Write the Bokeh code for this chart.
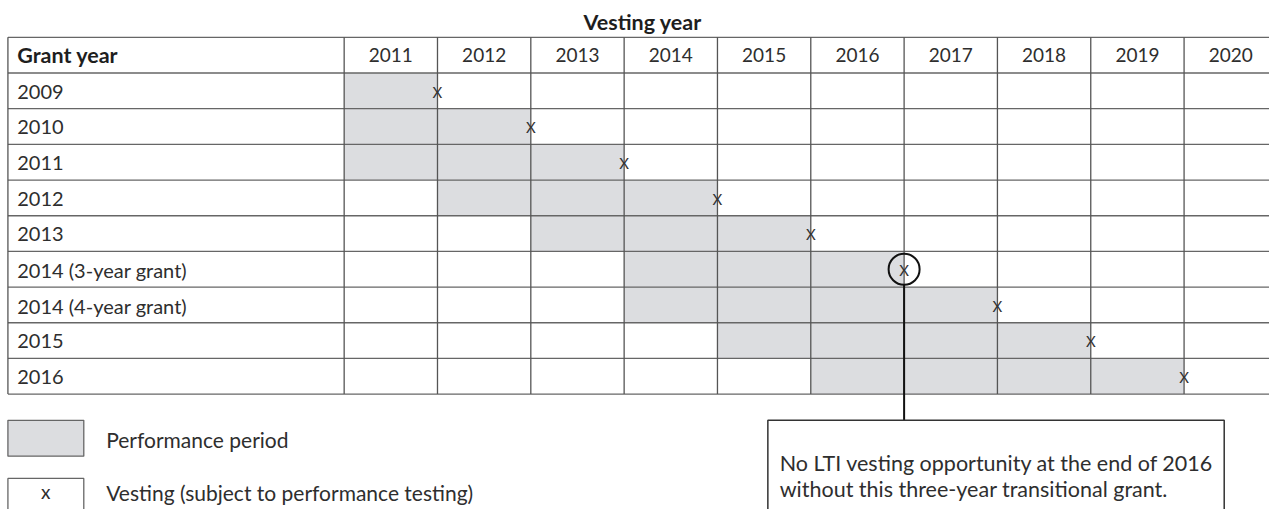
from bokeh.plotting import figure
from bokeh.models import Range1d, ColumnDataSource
from bokeh.core.properties import value
from bokeh.embed import file_html
from bokeh.resources import INLINE

# ---- data ----
vesting_years = [2011, 2012, 2013, 2014, 2015, 2016, 2017, 2018, 2019, 2020]
grant_labels = ["2009", "2010", "2011", "2012", "2013",
                "2014 (3-year grant)", "2014 (4-year grant)", "2015", "2016"]
perf_start = [2009, 2010, 2011, 2012, 2013, 2014, 2014, 2015, 2016]
perf_end = [2011, 2012, 2013, 2014, 2015, 2016, 2017, 2018, 2019]
highlight_row = "2014 (3-year grant)"
note_lines = ["No LTI vesting opportunity at the end of 2016",
              "without this three-year transitional grant."]
legend_labels = ["Performance period", "Vesting (subject to performance testing)"]

FONT = value("Lato")
GREY = "#dcdde0"
LINE = "#666666"
TXT = "#2e2e2e"

first = vesting_years[0]
ncols = len(vesting_years)
nrows = len(grant_labels) + 1      # header + grant rows
label_w = 3.603                     # width of label column (in year-columns)

p = figure(width=1269, height=509, output_backend="svg", toolbar_location=None,
           x_range=Range1d(-3.6825, 9.9153), y_range=Range1d(13.234, -1.0326),
           x_axis_type=None, y_axis_type=None, min_border=0,
           background_fill_color="white", border_fill_color="white")
p.outline_line_color = None
p.xgrid.visible = False
p.ygrid.visible = False

# shaded performance periods
rows = list(range(1, nrows))
left = [max(s, first) - first for s in perf_start]
right = [e - first + 1 for e in perf_end]
src = ColumnDataSource(dict(left=left, right=right,
                            top=rows, bottom=[r + 1 for r in rows]))
p.quad(left="left", right="right", top="top", bottom="bottom", source=src,
       fill_color=GREY, line_color=None)

# grid lines
hx0 = [-label_w] * (nrows + 1)
hx1 = [ncols] * (nrows + 1)
hy = list(range(nrows + 1))
p.segment(x0=hx0, y0=hy, x1=hx1, y1=hy, line_color=LINE, line_width=1.3)
vx = [-label_w] + list(range(ncols + 1))
p.segment(x0=vx, y0=[0] * len(vx), x1=vx, y1=[nrows] * len(vx),
          line_color="#555555", line_width=1.3)

# header texts
p.text(x=[(ncols - label_w) / 2], y=[-0.44], text=["Vesting year"],
       text_font=FONT, text_font_size="21.5px", text_font_style="bold",
       text_align="center", text_baseline="middle", text_color="#1e1e1e")
p.text(x=[-label_w + 0.1], y=[0.5], text=["Grant year"], text_font=FONT,
       text_font_size="21.5px", text_font_style="bold", text_align="left",
       text_baseline="middle", text_color="#1e1e1e")
p.text(x=[i + 0.5 for i in range(ncols)], y=[0.5] * ncols,
       text=[str(v) for v in vesting_years], text_font=FONT,
       text_font_size="19px", text_align="center", text_baseline="middle",
       text_color=TXT)
p.text(x=[-label_w + 0.1] * len(grant_labels), y=[r + 0.52 for r in rows],
       text=grant_labels, text_font=FONT, text_font_size="20px",
       text_align="left", text_baseline="middle", text_color=TXT)

# vesting marks
p.text(x=right, y=[r + 0.52 for r in rows], text=["X"] * len(right),
       text_font=FONT, text_font_size="15px", text_align="center",
       text_baseline="middle", text_color="#333333")

# highlight circle and connector
hi = grant_labels.index(highlight_row)
hx = right[hi]
hyc = rows[hi] + 0.5
p.scatter(x=[hx], y=[hyc], marker="circle", size=31, fill_color=None,
          line_color="#111111", line_width=2)
box_top = 10.734
p.segment(x0=[hx], y0=[hyc + 0.44], x1=[hx], y1=[box_top],
          line_color="#111111", line_width=2)

# note box
p.quad(left=[4.54], right=[9.43], top=[box_top], bottom=[13.6],
       fill_color="white", line_color="#333333", line_width=1.5)
p.text(x=[4.667, 4.667], y=[11.929, 12.663], text=note_lines, text_font=FONT,
       text_font_size="21.5px", text_align="left", text_baseline="alphabetic",
       text_color=TXT)

# legend
p.quad(left=[-label_w, -label_w], right=[-2.79, -2.79], top=[10.734, 12.364],
       bottom=[11.739, 13.37], fill_color=[GREY, "white"], line_color=LINE,
       line_width=1.3)
p.text(x=[(-label_w - 2.79) / 2], y=[12.74], text=["x"], text_font=FONT,
       text_font_size="19px", text_align="center", text_baseline="middle",
       text_color=TXT)
p.text(x=[-2.55, -2.55], y=[11.27, 12.76], text=legend_labels, text_font=FONT,
       text_font_size="21px", text_align="left", text_baseline="middle",
       text_color=TXT)

open("out.html", "w").write(file_html(p, INLINE))
